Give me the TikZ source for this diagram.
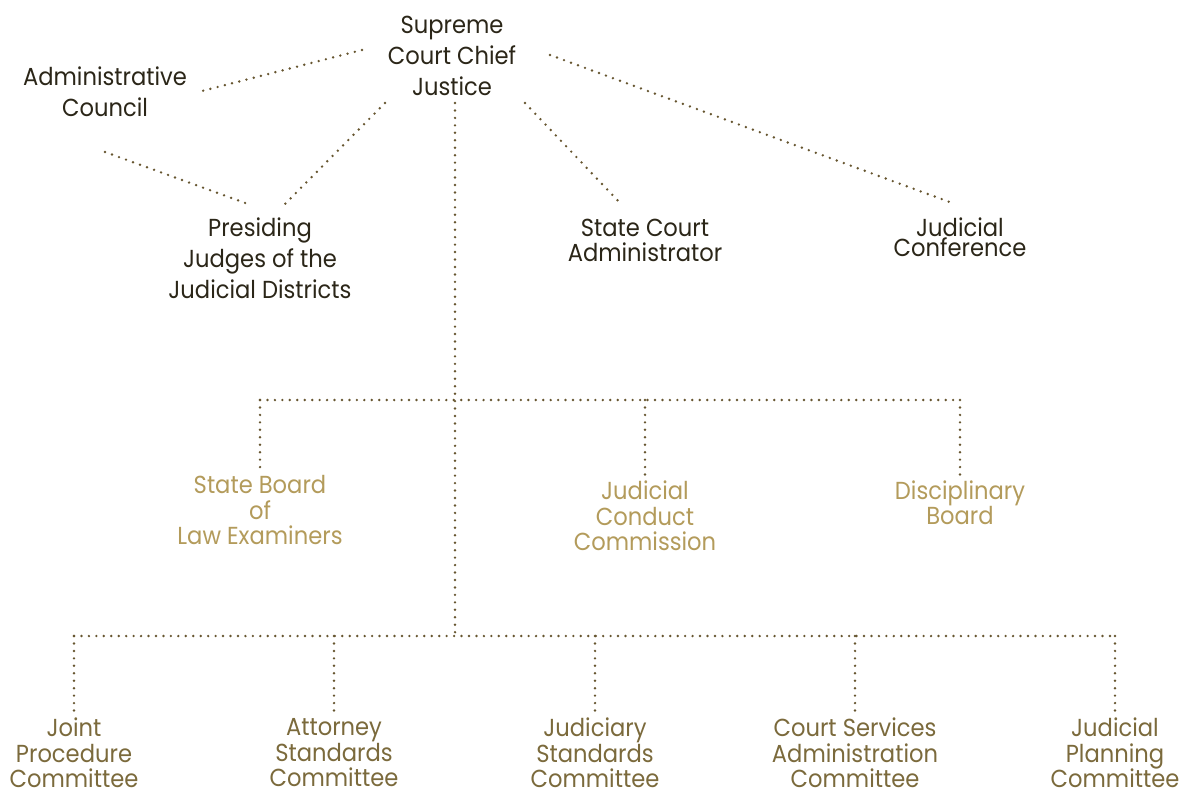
\documentclass[tikz,border=0pt]{standalone}
\usepackage{fontspec}
\setmainfont{Poppins}[FakeStretch=0.92]
\usetikzlibrary{calc}
\definecolor{topink}{HTML}{2B2618}
\definecolor{midink}{HTML}{B39B5B}
\definecolor{lowink}{HTML}{7B6A3C}
\definecolor{dotink}{HTML}{66552F}
\tikzset{
  link/.style={dotink, line width=1.9pt, line cap=round, dash pattern=on 0pt off 5.3pt},
  office/.style={align=center, text=topink, inner sep=2pt, font=\fontsize{17.5}{22}\selectfont},
  board/.style={office, text=midink, font=\fontsize{17.5}{18.1}\selectfont},
  cmte/.style={office, text=lowink, font=\fontsize{17.5}{18.1}\selectfont}
}
\begin{document}
\begin{tikzpicture}[x=0.025cm, y=-0.025cm]
                    \useasboundingbox (0,0) rectangle (1183,791);
                    \node[office] (sup) at (452,56) {Supreme\\Court Chief\\Justice};
                    \node[office] (admin) at (105,92) {Administrative\\Council};
                    \node[office] (pres) at (260,258) {Presiding\\Judges of the\\Judicial Districts};
                    \node[office, font=\fontsize{17.5}{17.7}\selectfont] (sca) at (645,240) {State Court\\Administrator};
                    \node[office, font=\fontsize{17.5}{14.5}\selectfont] (conf) at (960,237) {Judicial\\Conference};
                    \node[board] (sbl) at (260,510) {State Board\\of\\Law Examiners};
                    \node[board] (jcc) at (645,516) {Judicial\\Conduct\\Commission};
                    \node[board] (disc) at (960,503) {Disciplinary\\Board};
                    \node[cmte] (jpc) at (74,753) {Joint\\Procedure\\Committee};
                    \node[cmte] (asc) at (334,753) {Attorney\\Standards\\Committee};
                    \node[cmte] (jsc) at (595,753) {Judiciary\\Standards\\Committee};
                    \node[cmte] (csa) at (855,753) {Court Services\\Administration\\Committee};
                    \node[cmte] (jpl) at (1115,753) {Judicial\\Planning\\Committee};
                    \coordinate (midbus) at (455,400);
                    \coordinate (lowbus) at (455,636);
                    \draw[link] ($(sup)+(-90,-6)$) -- ($(admin)+(93,0)$);
                    \draw[link] ($(sup)+(-67,47)$) -- ($(pres)+(22,-51)$);
                    \draw[link] ($(admin)+(0,60)$) -- ($(pres)+(-12,-54)$);
                    \draw[link] ($(sup)+(73,47)$) -- ($(sca)+(-23,-35)$);
                    \draw[link] ($(sup)+(98,-1)$) -- ($(conf)+(-5,-33)$);
                    \draw[link] ($(sup)+(3,47)$) -- (lowbus);
                    \draw[link] (sbl |- midbus) -- (disc |- midbus);
                    \draw[link] (sbl |- midbus) -- (sbl.north);
                    \draw[link] (jcc |- midbus) -- (jcc.north);
                    \draw[link] (disc |- midbus) -- (disc.north);
                    \draw[link] (jpc |- lowbus) -- (jpl |- lowbus);
                    \draw[link] (jpc |- lowbus) -- (jpc.north);
                    \draw[link] (asc |- lowbus) -- (asc.north);
                    \draw[link] (jsc |- lowbus) -- (jsc.north);
                    \draw[link] (csa |- lowbus) -- (csa.north);
                    \draw[link] (jpl |- lowbus) -- (jpl.north);
\end{tikzpicture}
\end{document}
